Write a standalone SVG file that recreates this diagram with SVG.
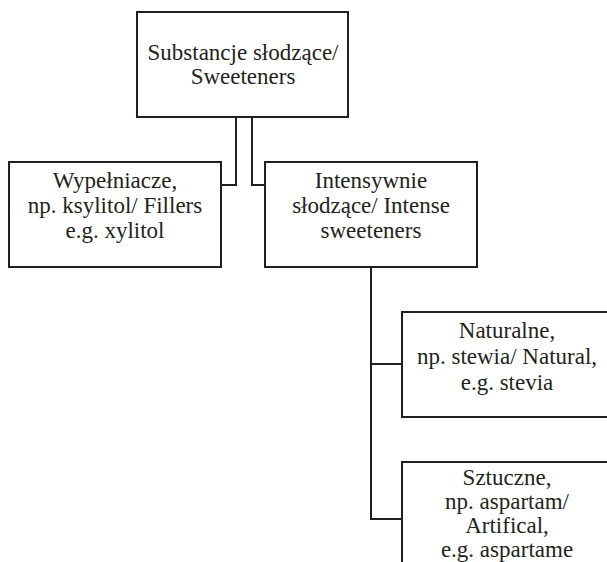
<svg xmlns="http://www.w3.org/2000/svg" width="607" height="562" viewBox="0 0 607 562">
<style>
.box{fill:#fff;stroke:#231f20;stroke-width:2}
.con{fill:none;stroke:#231f20;stroke-width:2}
.t{font-size:23px;fill:#231f20;text-anchor:middle}
</style>
<rect width="607" height="562" fill="#fff"/>
<g id="connectors">
<polyline class="con" points="236,117 236,185 221,185"/>
<polyline class="con" points="252,117 252,185 265,185"/>
<polyline class="con" points="371,267 371,519 402,519"/>
<line class="con" x1="371" y1="364" x2="402" y2="364"/>
</g>
<g font-family="Liberation Serif, DejaVu Serif, serif">
<g id="root">
<rect class="box" x="137" y="12" width="211" height="105"/>
<text class="t" x="243" y="60">Substancje słodzące/</text>
<text class="t" x="243" y="84">Sweeteners</text>
</g>
<g id="fillers">
<rect class="box" x="9" y="162" width="212" height="105"/>
<text class="t" x="115" y="188">Wypełniacze,</text>
<text class="t" x="115" y="213">np. ksylitol/ Fillers</text>
<text class="t" x="115" y="238">e.g. xylitol</text>
</g>
<g id="intense">
<rect class="box" x="265" y="162" width="212" height="105"/>
<text class="t" x="371" y="188">Intensywnie</text>
<text class="t" x="371" y="213">słodzące/ Intense</text>
<text class="t" x="371" y="238">sweeteners</text>
</g>
<g id="natural">
<rect class="box" x="402" y="312" width="212" height="105"/>
<text class="t" x="507" y="338">Naturalne,</text>
<text class="t" x="507" y="364">np. stewia/ Natural,</text>
<text class="t" x="507" y="390">e.g. stevia</text>
</g>
<g id="artificial">
<rect class="box" x="402" y="462" width="212" height="120"/>
<text class="t" x="507" y="485">Sztuczne,</text>
<text class="t" x="507" y="509">np. aspartam/</text>
<text class="t" x="507" y="533">Artifical,</text>
<text class="t" x="507" y="557">e.g. aspartame</text>
</g>
</g>
</svg>
